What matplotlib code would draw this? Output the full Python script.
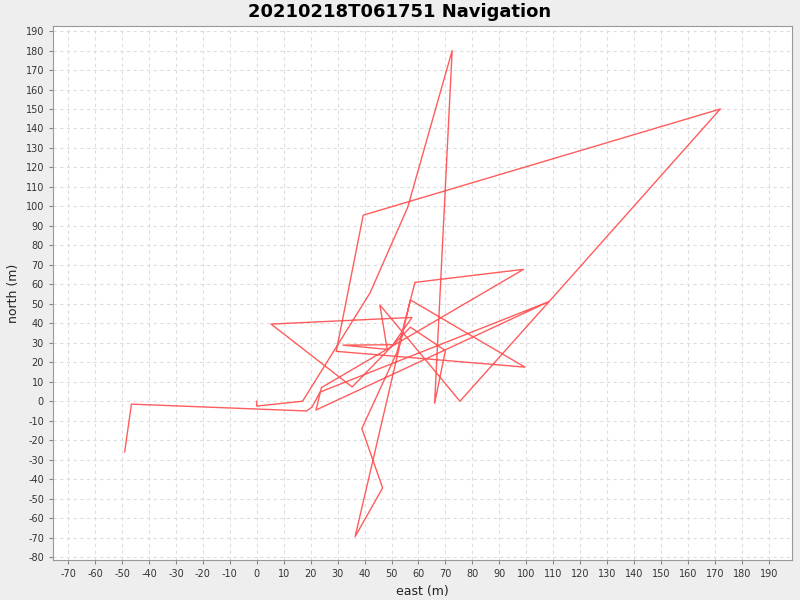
import matplotlib
matplotlib.use("Agg")
import matplotlib.pyplot as plt
from matplotlib.ticker import MultipleLocator

plt.rcParams["axes.unicode_minus"] = False

title = "20210218T061751 Navigation"
east = [-49, -46.5, 18.5, 20.5, 23.5, 108.5, 22, 24, 99, 58.7, 52, 39, 46.7, 36.5,
        57, 99.5, 29.5, 39.5, 172, 108.5, 75.4, 45.7, 48.4, 32, 50.5, 57.6, 5.3,
        35.4, 57, 70, 66, 72.5, 56, 42, 17, 0, 0]
north = [-26, -1.5, -5, -3, 4.7, 51.2, -4.5, 7, 67.7, 61, 25, -14, -44.5, -69.5,
         52, 17.5, 25.6, 95.5, 150, 51.2, 0, 49.4, 26.6, 28.8, 29, 43, 39.6,
         7.3, 38, 26, -1, 180, 99.5, 55.5, 0, -2.5, 0]

fig = plt.figure(figsize=(8, 6), dpi=100, facecolor="#EEEEEE")
ax = fig.add_axes([53/800, 1-560/600, (792-53)/800, (560-26)/600])
ax.set_facecolor("white")
ax.plot(east, north, color="#FF4040", alpha=0.85, lw=1.0)

ax.set_xlim(-75.6, 198.6)
ax.set_ylim(-81.5, 192.6)
ax.xaxis.set_major_locator(MultipleLocator(10))
ax.yaxis.set_major_locator(MultipleLocator(10))
ax.tick_params(labelsize=7, length=3, color="#888888", labelcolor="#333333")
ax.grid(True, color="#DDDDDD", linestyle=(0, (3, 3)), lw=0.8)
for s in ax.spines.values():
    s.set_color("#999999")
ax.set_xlabel("east (m)", fontsize=9, color="#222222")
ax.set_ylabel("north (m)", fontsize=9, color="#222222")
fig.text(0.5, 1-12/600, title, ha="center", va="center", fontsize=13, fontweight="bold")
fig.savefig("out.png", dpi=100, facecolor=fig.get_facecolor())
